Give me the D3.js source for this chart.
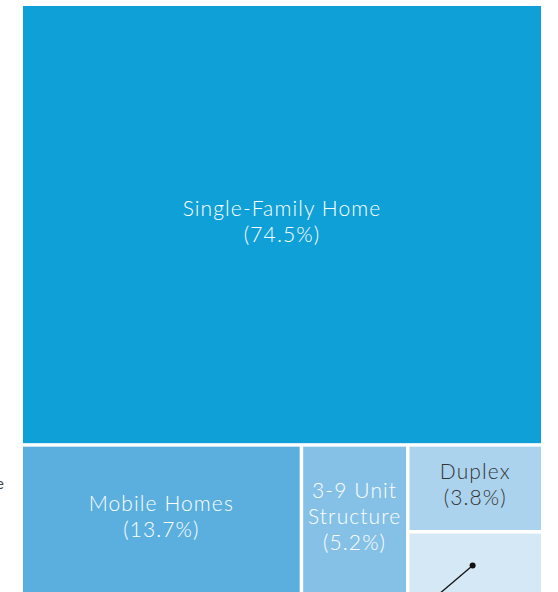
<!DOCTYPE html>
<html>
<head>
<meta charset="utf-8">
<script src="https://cdn.jsdelivr.net/npm/d3@7"></script>
<style>
  html, body { margin: 0; padding: 0; background: #fff; }
  svg { display: block; }
  text { font-family: "Century Gothic", "Lato", "Open Sans", sans-serif; }
</style>
</head>
<body>
<svg id="chart" width="558" height="592"></svg>
<script>
// Housing stock by structure type (share of units, %)
const categories = ["Single-Family Home", "Mobile Homes", "3-9 Unit Structure", "Duplex", "10+ Unit Structure"];
const shares = [74.5, 13.7, 5.2, 3.8, 2.8];
// Line breaks used for the in-cell labels
const labelLines = [["Single-Family Home"], ["Mobile Homes"], ["3-9 Unit", "Structure"], ["Duplex"], []];
const fills = ["#10a0d8", "#5aafdf", "#85c1e6", "#acd3ee", "#d5e8f5"];
const textFills = ["#ffffff", "#ffffff", "#ffffff", "#333333", "#333333"];

const svg = d3.select("#chart");
const box = { x: 23, y: 6, w: 518, h: 588 };

const root = d3.hierarchy({ children: categories.map((c, i) => ({ name: c, value: shares[i], idx: i })) })
  .sum(d => d.value || 0);

d3.treemap()
  .tile(d3.treemapBinary)
  .size([box.w, box.h])
  .paddingInner(3.5)
  .round(false)(root);

const g = svg.append("g").attr("transform", `translate(${box.x},${box.y})`);

const cells = g.selectAll("g.cell")
  .data(root.leaves())
  .join("g")
  .attr("class", "cell");

cells.append("rect")
  .attr("x", d => d.x0)
  .attr("y", d => d.y0)
  .attr("width", d => d.x1 - d.x0)
  .attr("height", d => d.y1 - d.y0)
  .attr("fill", d => fills[d.data.idx]);

const fmt = v => `(${d3.format(".1f")(v)}%)`;
const lineH = 26;

cells.each(function(d) {
  const lines = labelLines[d.data.idx];
  if (!lines.length) return;
  const all = lines.concat([fmt(d.data.value)]);
  const cx = (d.x0 + d.x1) / 2;
  const cy = (d.y0 + d.y1) / 2 - (d.data.idx === 0 ? 2.5 : 4);
  const top = cy - (all.length - 1) * lineH / 2;
  const t = d3.select(this).append("text")
    .attr("text-anchor", "middle")
    .attr("font-size", 21)
    .attr("font-weight", 300)
    .attr("letter-spacing", 1.1)
    .attr("fill", textFills[d.data.idx]);
  all.forEach((s, k) => {
    t.append("tspan")
      .attr("x", cx)
      .attr("y", top + k * lineH)
      .attr("dy", "0.35em")
      .text(s);
  });
});

// Leader line for the smallest cell, whose label sits below the cells
const small = root.leaves().find(d => d.data.idx === 4);
const dotX = small.x0 + (small.x1 - small.x0) * 0.48;
const dotY = small.y0 + 32;
const endX = dotX - 60, endY = dotY + 51;
g.append("line")
  .attr("x1", dotX).attr("y1", dotY)
  .attr("x2", endX).attr("y2", endY)
  .attr("stroke", "#111").attr("stroke-width", 1.3);
g.append("circle")
  .attr("cx", dotX).attr("cy", dotY).attr("r", 3)
  .attr("fill", "#111");
g.append("text")
  .attr("x", endX - 4).attr("y", endY + 20)
  .attr("text-anchor", "end")
  .attr("font-size", 19)
  .attr("fill", "#333")
  .text(`${categories[4]} ${fmt(shares[4])}`);

// Axis-side caption at the left edge
svg.append("text")
  .attr("x", 4).attr("y", 489)
  .attr("text-anchor", "end")
  .attr("font-size", 16)
  .attr("fill", "#444")
  .text("Housing Type");
</script>
</body>
</html>
